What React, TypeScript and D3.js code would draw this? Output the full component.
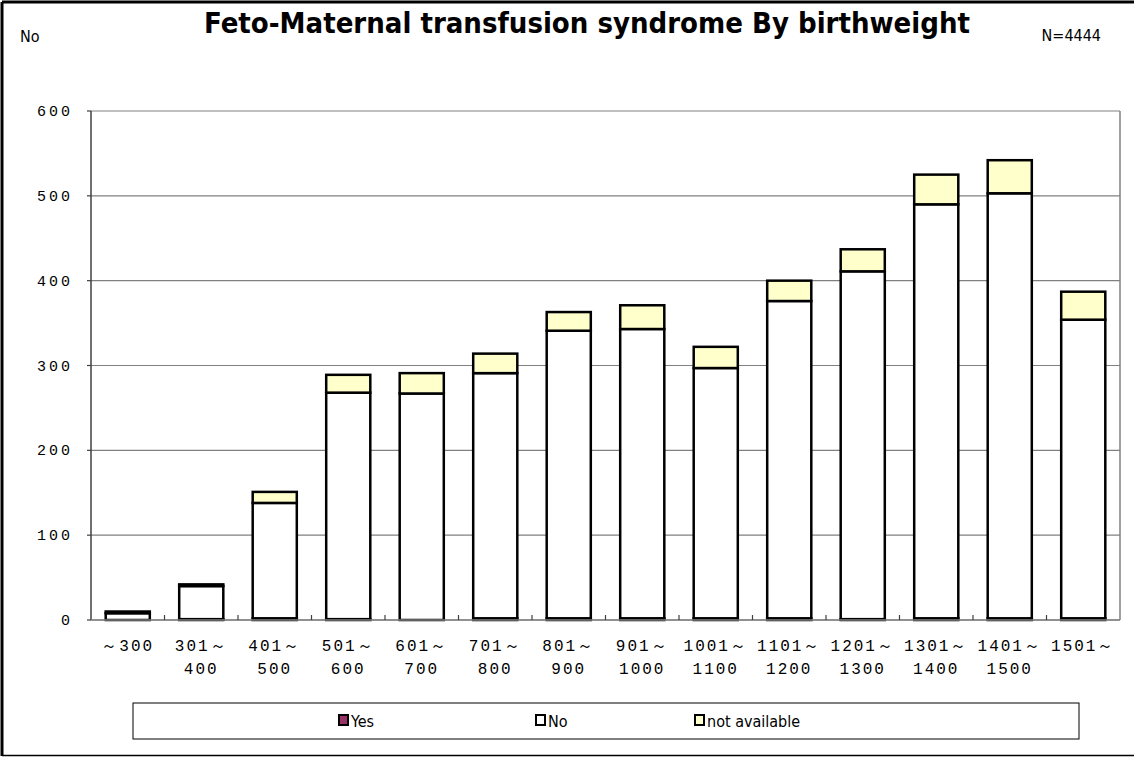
import React from 'react';
import * as d3 from 'd3';

const categories = ['～300', '301～400', '401～500', '501～600', '601～700', '701～800', '801～900', '901～1000',
  '1001～1100', '1101～1200', '1201～1300', '1301～1400', '1401～1500', '1501～'];
const labelTop = ['～300', '301～', '401～', '501～', '601～', '701～', '801～', '901～', '1001～', '1101～', '1201～', '1301～', '1401～', '1501～'];
const labelBottom = ['', '400', '500', '600', '700', '800', '900', '1000', '1100', '1200', '1300', '1400', '1500', ''];

const yesValues = [0, 1, 2, 1, 0, 2, 2, 2, 2, 2, 1, 2, 2, 2];
const noValues = [8, 39, 136, 267, 267, 289, 339, 341, 295, 374, 410, 488, 501, 352];
const naValues = [2, 2, 13, 21, 24, 23, 22, 28, 25, 24, 26, 35, 39, 33];

const series = ['Yes', 'No', 'not available'];
const colors = ['#993366', '#FFFFFF', '#FFFFCC'];
const yTicks = [0, 100, 200, 300, 400, 500, 600];

const W = 1134;
const H = 757;
const plot = { left: 91, right: 1120, top: 111, bottom: 620 };
const monoFont = '"Liberation Mono", "DejaVu Sans Mono", monospace';
const sansFont = '"DejaVu Sans Condensed", "DejaVu Sans", sans-serif';

export default function App() {
  const x = d3.scaleBand<string>()
    .domain(categories)
    .range([plot.left, plot.right])
    .paddingInner(0.4)
    .paddingOuter(0.2);
  const y = d3.scaleLinear().domain([0, 600]).range([plot.bottom, plot.top]);

  const rows = categories.map((c, i) => ({ cat: c, Yes: yesValues[i], No: noValues[i], 'not available': naValues[i] }));
  const stacked = d3.stack<any>().keys(series)(rows);

  const legendX = [339, 536, 695];

  return (
    <svg width={W} height={H} style={{ position: 'absolute', left: 0, top: 0, background: '#fff' }}>
      {/* outer frame */}
      <line x1={2} y1={2} x2={W} y2={2} stroke="#000" strokeWidth={3} />
      <line x1={2} y1={2} x2={2} y2={756} stroke="#000" strokeWidth={3} />
      <line x1={2} y1={755.5} x2={W} y2={755.5} stroke="#000" strokeWidth={1.5} />

      <text x={587} y={33} textAnchor="middle" fontFamily={sansFont} fontWeight="bold" fontSize={29}>
        Feto-Maternal transfusion syndrome By birthweight
      </text>
      <text x={20} y={42} fontFamily={sansFont} fontSize={16}>No</text>
      <text x={1101} y={41} textAnchor="end" fontFamily={sansFont} fontSize={16}>N=4444</text>

      {/* gridlines */}
      {yTicks.map(t => (
        <line key={t} x1={plot.left} x2={plot.right} y1={y(t)} y2={y(t)} stroke="#808080" strokeWidth={1.2} />
      ))}
      <line x1={plot.right} x2={plot.right} y1={plot.top} y2={plot.bottom} stroke="#808080" strokeWidth={1.5} />
      <line x1={plot.left} x2={plot.left} y1={plot.top} y2={plot.bottom} stroke="#404040" strokeWidth={1.5} />
      {yTicks.map(t => (
        <g key={'yt' + t}>
          <line x1={plot.left - 4} x2={plot.left} y1={y(t)} y2={y(t)} stroke="#404040" strokeWidth={1.2} />
          <text x={73} y={y(t) + 5} textAnchor="end" fontFamily={monoFont} fontSize={15} letterSpacing={3}>{t}</text>
        </g>
      ))}

      {/* bars */}
      {stacked.map((s, si) => (
        <g key={s.key}>
          {s.map((d, i) => {
            const h = y(d[0]) - y(d[1]);
            if (h <= 0) return null;
            return (
              <rect key={i} x={x(categories[i])} y={y(d[1])} width={x.bandwidth()} height={h}
                fill={colors[si]} stroke="#000" strokeWidth={2.5} />
            );
          })}
        </g>
      ))}

      {/* x axis */}
      <line x1={plot.left} x2={plot.right} y1={plot.bottom} y2={plot.bottom} stroke="#808080" strokeWidth={1.5} />
      {categories.slice(1).map(c => {
        const tx = (x(c) ?? 0) - x.step() * x.paddingInner() / 2;
        return <line key={'xt' + c} x1={tx} x2={tx} y1={plot.bottom - 5} y2={plot.bottom} stroke="#404040" strokeWidth={1.2} />;
      })}
      {categories.map((c, i) => {
        const cx = (x(c) ?? 0) + x.bandwidth() / 2;
        return (
          <g key={'xl' + c}>
            <text x={cx} y={651} textAnchor="middle" fontFamily={monoFont} fontSize={16} letterSpacing={2}>{labelTop[i]}</text>
            <text x={cx} y={674} textAnchor="middle" fontFamily={monoFont} fontSize={16} letterSpacing={2}>{labelBottom[i]}</text>
          </g>
        );
      })}

      {/* legend */}
      <rect x={133} y={703} width={946} height={36} fill="#fff" stroke="#000" strokeWidth={1} />
      {series.map((s, i) => (
        <g key={'lg' + s}>
          <rect x={legendX[i]} y={715} width={9} height={10} fill={colors[i]} stroke="#000" strokeWidth={2} />
          <text x={legendX[i] + 12} y={727} fontFamily={sansFont} fontSize={16}>{s}</text>
        </g>
      ))}
    </svg>
  );
}
